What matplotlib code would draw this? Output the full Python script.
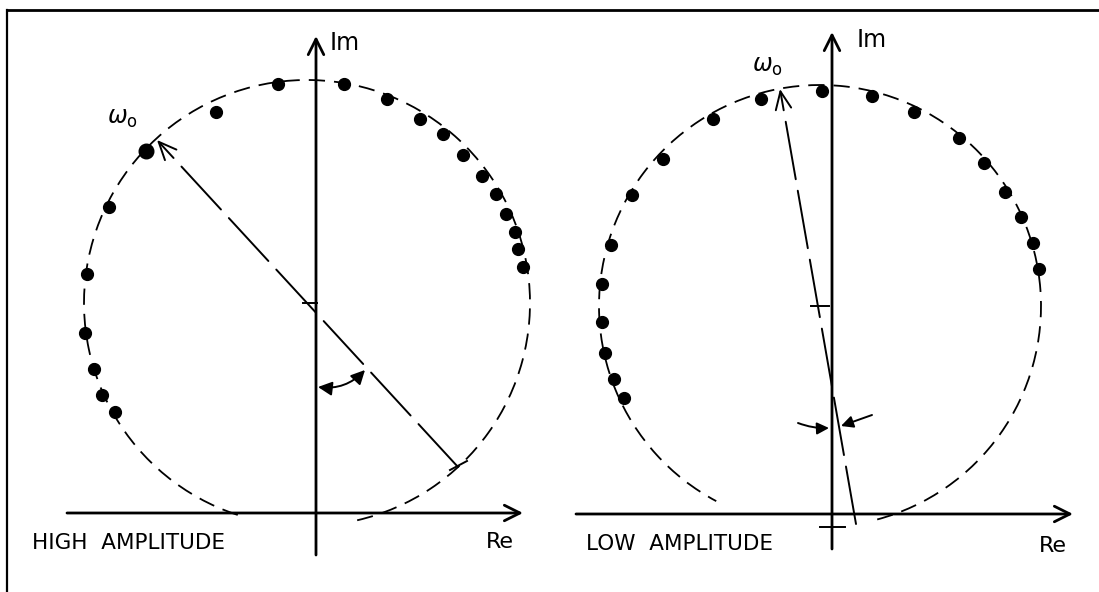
import matplotlib
matplotlib.use("Agg")
import matplotlib.pyplot as plt
from matplotlib.patches import Arc
from matplotlib.lines import Line2D

plt.rcParams["font.family"] = ["DejaVu Sans"]

# ---- high-amplitude response (left sketch) ----
hi_re = [-2.01, -2.14, -2.22, -2.31, -2.29, -2.07, -1.70, -1.00, -0.38, 0.28,
         0.71, 1.04, 1.27, 1.47, 1.66, 1.80, 1.90, 1.99, 2.02, 2.07]
hi_im = [1.01, 1.18, 1.44, 1.80, 2.39, 3.06, 3.62, 4.01, 4.29, 4.29,
         4.14, 3.94, 3.79, 3.58, 3.37, 3.19, 2.99, 2.81, 2.64, 2.46]
hi_w0_index = 6
hi_center = (-0.09, 2.10)
hi_radius = 2.23
hi_arc_deg = (-77, 254)
hi_w0_tip = (-1.59, 3.73)
hi_diam_end = (1.42, 0.46)

# ---- low-amplitude response (right sketch) ----
lo_re = [-2.08, -2.18, -2.27, -2.30, -2.30, -2.21, -2.00, -1.69, -1.19, -0.71,
         -0.10, 0.40, 0.82, 1.27, 1.52, 1.73, 1.89, 2.01, 2.07]
lo_im = [1.16, 1.35, 1.61, 1.92, 2.30, 2.69, 3.19, 3.55, 3.95, 4.15,
         4.23, 4.18, 4.02, 3.76, 3.51, 3.22, 2.97, 2.71, 2.45]
lo_center = (-0.12, 2.08)
lo_radius = 2.21
lo_arc_deg = (-75, 242)
lo_w0_tip = (-0.52, 4.25)
lo_diam_end = (0.24, -0.10)

INK = "black"
W, H = 1099, 592
fig = plt.figure(figsize=(W / 100, H / 100), dpi=100)
fig.patch.set_facecolor("white")

# sheet border (top and left edges)
fig.add_artist(Line2D([7 / W, 1.0], [1 - 10 / H, 1 - 10 / H], color=INK, lw=2.0))
fig.add_artist(Line2D([7 / W, 7 / W], [0.0, 1 - 10 / H], color=INK, lw=1.6))

split = 549.5 / W
ax_hi = fig.add_axes([0, 0, split, 1])
ax_lo = fig.add_axes([split, 0, 1 - split, 1])
ax_hi.set_xlim(-3.16, 2.335)
ax_hi.set_ylim(-0.79, 5.13)
ax_lo.set_xlim(-2.825, 2.67)
ax_lo.set_ylim(-0.78, 5.14)
for ax in (ax_hi, ax_lo):
    ax.set_axis_off()
    ax.patch.set_alpha(0)


def arrow(ax, start, tip, style="->", lw=1.5, ms=14, ls="-", rad=0.0):
    ax.annotate("", xy=tip, xytext=start,
                arrowprops=dict(arrowstyle=style, lw=lw, color=INK,
                                mutation_scale=ms, shrinkA=0, shrinkB=0,
                                linestyle=ls,
                                connectionstyle=f"arc3,rad={rad}"))


def draw_axes(ax, re_span, im_span, im_label, re_label, title, title_x):
    # real axis
    arrow(ax, (re_span[0], 0), (re_span[1], 0),
          style="->,head_length=0.7,head_width=0.35", lw=2.0, ms=16)
    # imaginary axis
    arrow(ax, (0, im_span[0]), (0, im_span[1]),
          style="->,head_length=0.7,head_width=0.35", lw=2.0, ms=16)
    ax.text(im_label[0], im_label[1], "Im", fontsize=17, va="center", ha="left")
    ax.text(re_label[0], re_label[1], "Re", fontsize=16, va="center", ha="left")
    ax.text(title_x, -0.30, title, fontsize=15.5, va="center", ha="left")


def draw_locus(ax, center, radius, arc_deg, re, im, big=None):
    ax.add_patch(Arc(center, 2 * radius, 2 * radius, theta1=arc_deg[0],
                     theta2=arc_deg[1], lw=1.3, color=INK,
                     linestyle=(0, (9, 5))))
    ax.plot(re, im, "o", color=INK, ms=8.5, zorder=5)
    if big is not None:
        ax.plot(re[big], im[big], "o", color=INK, ms=10.5, zorder=5)


# ---------------- left: high amplitude ----------------
draw_axes(ax_hi, (-2.49, 2.07), (-0.42, 4.77), (0.14, 4.70), (1.70, -0.29),
          "HIGH  AMPLITUDE", -2.84)
draw_locus(ax_hi, hi_center, hi_radius, hi_arc_deg, hi_re, hi_im, hi_w0_index)
arrow(ax_hi, hi_diam_end, hi_w0_tip, style="->,head_length=0.8,head_width=0.35",
      lw=1.4, ms=16, ls=(0, (30, 6)))
# short tick at the far end of the diameter
ax_hi.plot([1.34, 1.51], [0.43, 0.52], color=INK, lw=1.4)
# centre mark
ax_hi.plot([-0.13, 0.01], [hi_center[1], hi_center[1]], color=INK, lw=1.4)
# phase angle between the Im axis and the diameter
arrow(ax_hi, (0.02, 1.26), (0.49, 1.43), style="<|-|>,head_length=0.6,head_width=0.3",
      lw=1.4, ms=14, rad=0.25)
ax_hi.text(-2.09, 3.95, r"$\omega_\mathrm{o}$", fontsize=17, va="center", ha="left")

# ---------------- right: low amplitude ----------------
draw_axes(ax_lo, (-2.56, 2.41), (-0.35, 4.82), (0.25, 4.74), (2.07, -0.32),
          "LOW  AMPLITUDE", -2.46)
draw_locus(ax_lo, lo_center, lo_radius, lo_arc_deg, lo_re, lo_im)
arrow(ax_lo, lo_diam_end, lo_w0_tip, style="->,head_length=0.8,head_width=0.35",
      lw=1.4, ms=16, ls=(0, (30, 6)))
# centre mark and origin mark
ax_lo.plot([-0.21, -0.03], [lo_center[1], lo_center[1]], color=INK, lw=1.4)
ax_lo.plot([-0.12, 0.13], [-0.13, -0.13], color=INK, lw=1.4)
# small phase angle indicated by two converging arrows
arrow(ax_lo, (-0.34, 0.91), (-0.03, 0.86), style="-|>,head_length=0.6,head_width=0.3",
      lw=1.4, ms=12, rad=0.1)
arrow(ax_lo, (0.40, 0.99), (0.09, 0.88), style="-|>,head_length=0.6,head_width=0.3",
      lw=1.4, ms=12)
ax_lo.text(-0.80, 4.48, r"$\omega_\mathrm{o}$", fontsize=17, va="center", ha="left")

fig.savefig("out.png", dpi=100, facecolor="white")
